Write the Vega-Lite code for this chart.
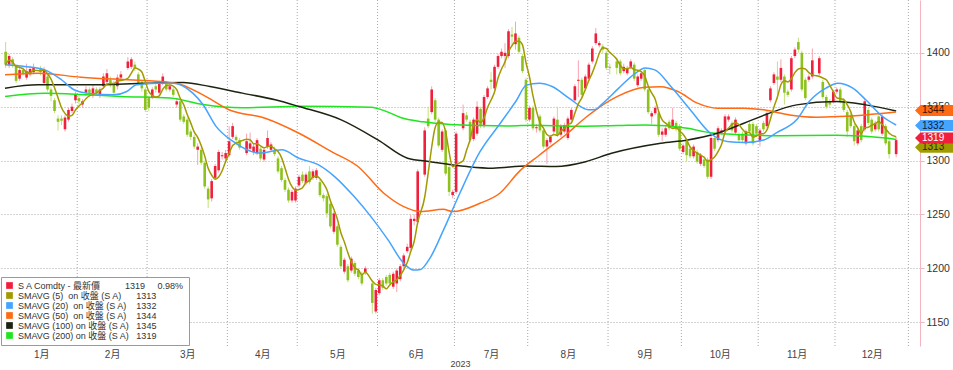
{
  "$schema": "https://vega.github.io/schema/vega-lite/v6.json",
  "width": 920,
  "height": 346,
  "autosize": {"type": "none"},
  "padding": {"left": 0, "top": 0, "right": 33, "bottom": 24},
  "background": "#ffffff",
  "config": {
    "view": {"stroke": null},
    "font": "Liberation Sans",
    "axis": {"labelFont": "Liberation Sans, Noto Sans CJK TC", "titleFont": "Liberation Sans", "labelColor": "#444444", "titleColor": "#444444"},
    "legend": {
      "orient": "bottom-left", "offset": 1, "padding": 4, "fillColor": "#ffffff", "strokeColor": "#9a9a9a",
      "rowPadding": -2, "symbolType": "square", "symbolSize": 45, "symbolStrokeWidth": 0,
      "labelFontSize": 9, "labelFont": "Liberation Sans, Noto Sans CJK TC", "labelColor": "#333333", "labelLimit": 400, "titleFontSize": 0
    }
  },
  "datasets": {
    "months": [{"b":21.5},{"b":41.5},{"b":64.5},{"b":84.5},{"b":107.5},{"b":129.5},{"b":150.5},{"b":173.5},{"b":194.5},{"b":216.5},{"b":238.5},{"b":259.5}],
    "candles": [
      {"i":1,"o":1401,"h":1410,"l":1386,"c":1389},{"i":2,"o":1389,"h":1399,"l":1386,"c":1397},{"i":3,"o":1394,"h":1396,"l":1386,"c":1389},
      {"i":4,"o":1387,"h":1389,"l":1372,"c":1374},{"i":5,"o":1376,"h":1386,"l":1374,"c":1384},{"i":6,"o":1384,"h":1387,"l":1379,"c":1381},
      {"i":7,"o":1377,"h":1390,"l":1375,"c":1383},{"i":8,"o":1380,"h":1388,"l":1378,"c":1385},{"i":9,"o":1382,"h":1390,"l":1380,"c":1386},
      {"i":11,"o":1386,"h":1388,"l":1379,"c":1382},{"i":12,"o":1372,"h":1387,"l":1370,"c":1384},{"i":13,"o":1378,"h":1380,"l":1364,"c":1366},
      {"i":14,"o":1366,"h":1368,"l":1355,"c":1360},{"i":15,"o":1356,"h":1358,"l":1344,"c":1346},{"i":16,"o":1339,"h":1342,"l":1328,"c":1336},
      {"i":17,"o":1339,"h":1342,"l":1333,"c":1337},{"i":18,"o":1329,"h":1342,"l":1327,"c":1340},{"i":19,"o":1338,"h":1349,"l":1336,"c":1347},
      {"i":20,"o":1346,"h":1353,"l":1344,"c":1350},{"i":21,"o":1356,"h":1364,"l":1353,"c":1361},{"i":22,"o":1358,"h":1360,"l":1352,"c":1355},
      {"i":23,"o":1352,"h":1357,"l":1349,"c":1355},{"i":24,"o":1363,"h":1369,"l":1360,"c":1366},{"i":25,"o":1366,"h":1368,"l":1360,"c":1363},
      {"i":26,"o":1361,"h":1370,"l":1358,"c":1367},{"i":27,"o":1366,"h":1368,"l":1360,"c":1363},{"i":28,"o":1361,"h":1368,"l":1358,"c":1366},
      {"i":29,"o":1369,"h":1381,"l":1367,"c":1378},{"i":30,"o":1373,"h":1385,"l":1371,"c":1381},{"i":31,"o":1375,"h":1378,"l":1368,"c":1370},
      {"i":32,"o":1372,"h":1374,"l":1361,"c":1363},{"i":33,"o":1369,"h":1380,"l":1366,"c":1377},{"i":34,"o":1377,"h":1383,"l":1375,"c":1380},
      {"i":36,"o":1386,"h":1396,"l":1384,"c":1392},{"i":37,"o":1387,"h":1396,"l":1385,"c":1394},{"i":38,"o":1389,"h":1392,"l":1383,"c":1386},
      {"i":39,"o":1380,"h":1382,"l":1370,"c":1372},{"i":40,"o":1373,"h":1375,"l":1364,"c":1367},{"i":41,"o":1366,"h":1368,"l":1345,"c":1347},
      {"i":42,"o":1358,"h":1360,"l":1346,"c":1349},{"i":43,"o":1359,"h":1368,"l":1357,"c":1366},{"i":44,"o":1369,"h":1371,"l":1363,"c":1366},
      {"i":45,"o":1363,"h":1374,"l":1361,"c":1372},{"i":46,"o":1372,"h":1381,"l":1370,"c":1378},{"i":47,"o":1372,"h":1374,"l":1364,"c":1366},
      {"i":48,"o":1366,"h":1371,"l":1364,"c":1369},{"i":49,"o":1366,"h":1368,"l":1359,"c":1361},{"i":50,"o":1352,"h":1358,"l":1349,"c":1355},
      {"i":51,"o":1355,"h":1357,"l":1336,"c":1338},{"i":52,"o":1341,"h":1343,"l":1334,"c":1336},{"i":53,"o":1338,"h":1340,"l":1322,"c":1324},
      {"i":54,"o":1327,"h":1329,"l":1319,"c":1322},{"i":55,"o":1322,"h":1324,"l":1311,"c":1313},{"i":56,"o":1310,"h":1316,"l":1296,"c":1313},
      {"i":57,"o":1310,"h":1312,"l":1296,"c":1298},{"i":58,"o":1298,"h":1300,"l":1274,"c":1276},{"i":59,"o":1274,"h":1276,"l":1256,"c":1264},
      {"i":60,"o":1265,"h":1283,"l":1262,"c":1281},{"i":61,"o":1284,"h":1297,"l":1282,"c":1295},{"i":62,"o":1291,"h":1310,"l":1289,"c":1308},
      {"i":63,"o":1304,"h":1308,"l":1301,"c":1305},{"i":64,"o":1302,"h":1310,"l":1300,"c":1307},{"i":65,"o":1305,"h":1332,"l":1303,"c":1318},
      {"i":66,"o":1322,"h":1335,"l":1320,"c":1332},{"i":67,"o":1322,"h":1324,"l":1316,"c":1319},{"i":68,"o":1319,"h":1321,"l":1310,"c":1312},
      {"i":70,"o":1307,"h":1325,"l":1305,"c":1318},{"i":71,"o":1311,"h":1326,"l":1309,"c":1316},{"i":72,"o":1308,"h":1316,"l":1305,"c":1313},
      {"i":73,"o":1307,"h":1321,"l":1305,"c":1319},{"i":74,"o":1311,"h":1313,"l":1300,"c":1302},{"i":75,"o":1301,"h":1312,"l":1299,"c":1310},
      {"i":76,"o":1313,"h":1328,"l":1311,"c":1321},{"i":77,"o":1310,"h":1317,"l":1308,"c":1315},{"i":78,"o":1310,"h":1313,"l":1304,"c":1306},
      {"i":79,"o":1302,"h":1304,"l":1288,"c":1290},{"i":80,"o":1293,"h":1295,"l":1280,"c":1282},{"i":81,"o":1282,"h":1284,"l":1271,"c":1273},
      {"i":82,"o":1273,"h":1275,"l":1261,"c":1263},{"i":83,"o":1263,"h":1273,"l":1261,"c":1271},{"i":84,"o":1263,"h":1276,"l":1261,"c":1274},
      {"i":85,"o":1277,"h":1287,"l":1275,"c":1285},{"i":86,"o":1287,"h":1290,"l":1279,"c":1281},{"i":87,"o":1279,"h":1289,"l":1277,"c":1287},
      {"i":88,"o":1290,"h":1295,"l":1278,"c":1280},{"i":89,"o":1284,"h":1292,"l":1282,"c":1290},{"i":90,"o":1284,"h":1293,"l":1282,"c":1291},
      {"i":91,"o":1280,"h":1282,"l":1266,"c":1268},{"i":92,"o":1268,"h":1270,"l":1262,"c":1265},{"i":93,"o":1267,"h":1269,"l":1247,"c":1251},
      {"i":94,"o":1260,"h":1262,"l":1237,"c":1239},{"i":95,"o":1234,"h":1253,"l":1232,"c":1251},{"i":96,"o":1239,"h":1241,"l":1220,"c":1222},
      {"i":97,"o":1220,"h":1222,"l":1200,"c":1202},{"i":98,"o":1197,"h":1210,"l":1195,"c":1208},{"i":99,"o":1202,"h":1204,"l":1187,"c":1189},
      {"i":100,"o":1198,"h":1211,"l":1196,"c":1209},{"i":101,"o":1205,"h":1207,"l":1193,"c":1195},{"i":102,"o":1198,"h":1200,"l":1190,"c":1192},
      {"i":103,"o":1195,"h":1197,"l":1184,"c":1186},{"i":104,"o":1196,"h":1202,"l":1194,"c":1200},{"i":106,"o":1186,"h":1188,"l":1158,"c":1168},
      {"i":107,"o":1160,"h":1182,"l":1158,"c":1180},{"i":108,"o":1177,"h":1191,"l":1175,"c":1189},{"i":109,"o":1189,"h":1191,"l":1180,"c":1182},
      {"i":110,"o":1192,"h":1194,"l":1184,"c":1186},{"i":111,"o":1194,"h":1196,"l":1184,"c":1186},{"i":112,"o":1183,"h":1197,"l":1181,"c":1195},
      {"i":113,"o":1186,"h":1200,"l":1178,"c":1198},{"i":114,"o":1190,"h":1204,"l":1188,"c":1202},{"i":115,"o":1202,"h":1214,"l":1200,"c":1212},
      {"i":116,"o":1216,"h":1223,"l":1214,"c":1220},{"i":117,"o":1219,"h":1250,"l":1217,"c":1246},{"i":118,"o":1244,"h":1250,"l":1240,"c":1246},
      {"i":119,"o":1243,"h":1292,"l":1241,"c":1290},{"i":121,"o":1287,"h":1331,"l":1285,"c":1328},{"i":122,"o":1339,"h":1350,"l":1330,"c":1332},
      {"i":123,"o":1345,"h":1369,"l":1343,"c":1366},{"i":124,"o":1356,"h":1358,"l":1336,"c":1338},{"i":125,"o":1338,"h":1340,"l":1312,"c":1314},
      {"i":126,"o":1310,"h":1329,"l":1308,"c":1327},{"i":127,"o":1328,"h":1330,"l":1286,"c":1288},{"i":128,"o":1294,"h":1296,"l":1267,"c":1271},
      {"i":129,"o":1268,"h":1273,"l":1265,"c":1271},{"i":130,"o":1271,"h":1327,"l":1269,"c":1325},{"i":132,"o":1330,"h":1352,"l":1328,"c":1344},
      {"i":133,"o":1342,"h":1345,"l":1336,"c":1338},{"i":134,"o":1336,"h":1338,"l":1317,"c":1319},{"i":135,"o":1320,"h":1340,"l":1318,"c":1338},
      {"i":136,"o":1325,"h":1355,"l":1323,"c":1350},{"i":137,"o":1348,"h":1350,"l":1330,"c":1332},{"i":138,"o":1332,"h":1361,"l":1330,"c":1359},
      {"i":139,"o":1359,"h":1369,"l":1357,"c":1367},{"i":140,"o":1375,"h":1382,"l":1366,"c":1373},{"i":141,"o":1367,"h":1389,"l":1365,"c":1387},
      {"i":142,"o":1387,"h":1399,"l":1385,"c":1397},{"i":143,"o":1397,"h":1404,"l":1395,"c":1401},{"i":144,"o":1397,"h":1409,"l":1386,"c":1400},
      {"i":145,"o":1397,"h":1422,"l":1395,"c":1420},{"i":146,"o":1417,"h":1424,"l":1406,"c":1415},{"i":147,"o":1408,"h":1429,"l":1403,"c":1418},
      {"i":148,"o":1414,"h":1416,"l":1399,"c":1401},{"i":149,"o":1397,"h":1399,"l":1381,"c":1383},{"i":150,"o":1375,"h":1377,"l":1336,"c":1338},
      {"i":151,"o":1338,"h":1351,"l":1336,"c":1349},{"i":152,"o":1349,"h":1351,"l":1328,"c":1330},{"i":153,"o":1330,"h":1334,"l":1326,"c":1331},
      {"i":154,"o":1341,"h":1343,"l":1326,"c":1328},{"i":155,"o":1328,"h":1330,"l":1311,"c":1313},{"i":156,"o":1313,"h":1321,"l":1297,"c":1319},
      {"i":157,"o":1317,"h":1324,"l":1315,"c":1322},{"i":158,"o":1327,"h":1341,"l":1325,"c":1339},{"i":159,"o":1338,"h":1350,"l":1322,"c":1324},
      {"i":160,"o":1324,"h":1334,"l":1322,"c":1332},{"i":161,"o":1327,"h":1335,"l":1325,"c":1333},{"i":162,"o":1321,"h":1341,"l":1319,"c":1339},
      {"i":163,"o":1338,"h":1349,"l":1336,"c":1347},{"i":164,"o":1356,"h":1371,"l":1354,"c":1369},{"i":165,"o":1374,"h":1393,"l":1359,"c":1375},
      {"i":166,"o":1375,"h":1377,"l":1359,"c":1361},{"i":167,"o":1367,"h":1380,"l":1365,"c":1378},{"i":168,"o":1376,"h":1391,"l":1374,"c":1389},
      {"i":169,"o":1392,"h":1406,"l":1390,"c":1404},{"i":170,"o":1409,"h":1423,"l":1407,"c":1418},{"i":171,"o":1407,"h":1411,"l":1405,"c":1409},
      {"i":172,"o":1406,"h":1408,"l":1400,"c":1403},{"i":173,"o":1400,"h":1402,"l":1384,"c":1386},{"i":174,"o":1387,"h":1390,"l":1380,"c":1386},
      {"i":176,"o":1392,"h":1395,"l":1380,"c":1386},{"i":177,"o":1392,"h":1394,"l":1379,"c":1381},{"i":178,"o":1383,"h":1390,"l":1381,"c":1387},
      {"i":179,"o":1381,"h":1388,"l":1379,"c":1386},{"i":180,"o":1387,"h":1394,"l":1385,"c":1392},{"i":181,"o":1389,"h":1391,"l":1374,"c":1376},
      {"i":182,"o":1370,"h":1380,"l":1368,"c":1378},{"i":183,"o":1376,"h":1383,"l":1374,"c":1381},{"i":184,"o":1384,"h":1386,"l":1364,"c":1366},
      {"i":185,"o":1366,"h":1368,"l":1343,"c":1345},{"i":186,"o":1341,"h":1346,"l":1334,"c":1344},{"i":187,"o":1344,"h":1351,"l":1342,"c":1349},
      {"i":188,"o":1344,"h":1346,"l":1322,"c":1324},{"i":189,"o":1324,"h":1330,"l":1318,"c":1327},{"i":190,"o":1324,"h":1332,"l":1322,"c":1330},
      {"i":191,"o":1336,"h":1338,"l":1328,"c":1330},{"i":192,"o":1332,"h":1349,"l":1330,"c":1338},{"i":193,"o":1335,"h":1337,"l":1327,"c":1329},
      {"i":194,"o":1332,"h":1334,"l":1309,"c":1311},{"i":195,"o":1308,"h":1316,"l":1306,"c":1314},{"i":196,"o":1318,"h":1320,"l":1299,"c":1305},
      {"i":197,"o":1311,"h":1313,"l":1302,"c":1304},{"i":198,"o":1304,"h":1315,"l":1302,"c":1313},{"i":199,"o":1308,"h":1310,"l":1297,"c":1299},
      {"i":200,"o":1297,"h":1307,"l":1295,"c":1305},{"i":201,"o":1301,"h":1303,"l":1293,"c":1295},{"i":202,"o":1301,"h":1303,"l":1283,"c":1285},
      {"i":203,"o":1285,"h":1323,"l":1283,"c":1321},{"i":204,"o":1321,"h":1323,"l":1309,"c":1311},{"i":205,"o":1319,"h":1332,"l":1317,"c":1330},
      {"i":206,"o":1326,"h":1330,"l":1324,"c":1328},{"i":207,"o":1328,"h":1343,"l":1326,"c":1341},{"i":208,"o":1338,"h":1343,"l":1336,"c":1341},
      {"i":209,"o":1335,"h":1337,"l":1326,"c":1328},{"i":210,"o":1326,"h":1340,"l":1324,"c":1338},{"i":211,"o":1324,"h":1326,"l":1317,"c":1319},
      {"i":212,"o":1325,"h":1327,"l":1317,"c":1319},{"i":213,"o":1316,"h":1329,"l":1314,"c":1327},{"i":214,"o":1334,"h":1336,"l":1325,"c":1327},
      {"i":215,"o":1334,"h":1336,"l":1314,"c":1316},{"i":216,"o":1332,"h":1334,"l":1323,"c":1325},{"i":217,"o":1318,"h":1330,"l":1313,"c":1328},
      {"i":218,"o":1335,"h":1337,"l":1327,"c":1329},{"i":219,"o":1332,"h":1346,"l":1330,"c":1344},{"i":220,"o":1356,"h":1369,"l":1354,"c":1367},
      {"i":221,"o":1372,"h":1382,"l":1370,"c":1380},{"i":222,"o":1378,"h":1392,"l":1357,"c":1375},{"i":223,"o":1375,"h":1394,"l":1373,"c":1386},
      {"i":224,"o":1378,"h":1380,"l":1352,"c":1363},{"i":225,"o":1364,"h":1366,"l":1359,"c":1361},{"i":226,"o":1366,"h":1397,"l":1364,"c":1395},
      {"i":227,"o":1397,"h":1405,"l":1395,"c":1403},{"i":228,"o":1410,"h":1414,"l":1400,"c":1403},{"i":229,"o":1400,"h":1402,"l":1364,"c":1366},
      {"i":230,"o":1375,"h":1377,"l":1356,"c":1358},{"i":231,"o":1375,"h":1380,"l":1373,"c":1378},{"i":232,"o":1378,"h":1404,"l":1376,"c":1393},
      {"i":234,"o":1381,"h":1397,"l":1379,"c":1395},{"i":235,"o":1373,"h":1375,"l":1357,"c":1359},{"i":236,"o":1359,"h":1361,"l":1348,"c":1350},
      {"i":237,"o":1355,"h":1357,"l":1350,"c":1352},{"i":238,"o":1355,"h":1366,"l":1353,"c":1364},{"i":239,"o":1364,"h":1368,"l":1362,"c":1366},
      {"i":240,"o":1366,"h":1368,"l":1353,"c":1355},{"i":241,"o":1356,"h":1358,"l":1345,"c":1347},{"i":242,"o":1345,"h":1347,"l":1322,"c":1327},
      {"i":243,"o":1342,"h":1344,"l":1330,"c":1332},{"i":244,"o":1332,"h":1334,"l":1314,"c":1318},{"i":245,"o":1316,"h":1330,"l":1314,"c":1328},
      {"i":246,"o":1332,"h":1334,"l":1317,"c":1319},{"i":247,"o":1329,"h":1357,"l":1327,"c":1355},{"i":248,"o":1347,"h":1349,"l":1333,"c":1335},
      {"i":249,"o":1338,"h":1340,"l":1325,"c":1327},{"i":250,"o":1329,"h":1337,"l":1327,"c":1335},{"i":251,"o":1341,"h":1343,"l":1327,"c":1329},
      {"i":252,"o":1325,"h":1343,"l":1323,"c":1341},{"i":253,"o":1332,"h":1334,"l":1314,"c":1316},{"i":254,"o":1318,"h":1320,"l":1302,"c":1306},
      {"i":256,"o":1306,"h":1322,"l":1303,"c":1319}
    ],
    "ma": [
      {"i":0.82,"s":"m200","v":1359.5},{"i":12.2,"s":"m200","v":1362.5},{"i":24.3,"s":"m200","v":1361},{"i":34,"s":"m200","v":1359.5},{"i":48.1,"s":"m200","v":1358},{"i":57.5,"s":"m200","v":1352},{"i":68.8,"s":"m200","v":1349},{"i":85.8,"s":"m200","v":1350.5},{"i":105.6,"s":"m200","v":1349.6},{"i":110.5,"s":"m200","v":1345},{"i":114.1,"s":"m200","v":1340},{"i":120.6,"s":"m200","v":1336},{"i":128.3,"s":"m200","v":1333.5},{"i":136.8,"s":"m200","v":1332.5},{"i":145.3,"s":"m200","v":1332.2},{"i":151.8,"s":"m200","v":1332.8},{"i":165.1,"s":"m200","v":1331.8},{"i":176.5,"s":"m200","v":1332.5},{"i":184.1,"s":"m200","v":1333},{"i":196.3,"s":"m200","v":1330},{"i":202.8,"s":"m200","v":1325.8},{"i":212.4,"s":"m200","v":1324},{"i":221.8,"s":"m200","v":1323},{"i":238.8,"s":"m200","v":1323.5},{"i":253.8,"s":"m200","v":1320.8},{"i":256,"s":"m200","v":1319.5},
      {"i":0.82,"s":"m100","v":1367.2},{"i":10.2,"s":"m100","v":1370.3},{"i":24.3,"s":"m100","v":1370.3},{"i":41.3,"s":"m100","v":1371.8},{"i":51.8,"s":"m100","v":1372.5},{"i":59.5,"s":"m100","v":1368.7},{"i":68.8,"s":"m100","v":1362.6},{"i":78.2,"s":"m100","v":1356.4},{"i":85,"s":"m100","v":1350.2},{"i":97.1,"s":"m100","v":1337.8},{"i":107.6,"s":"m100","v":1319.2},{"i":116.1,"s":"m100","v":1302.2},{"i":122.6,"s":"m100","v":1299},{"i":133.1,"s":"m100","v":1294.5},{"i":140.5,"s":"m100","v":1293},{"i":150.1,"s":"m100","v":1295},{"i":158.6,"s":"m100","v":1294.5},{"i":167.1,"s":"m100","v":1299},{"i":174.5,"s":"m100","v":1306.8},{"i":188.6,"s":"m100","v":1316.1},{"i":196.3,"s":"m100","v":1319.2},{"i":204.8,"s":"m100","v":1325.4},{"i":212.4,"s":"m100","v":1334.7},{"i":218.9,"s":"m100","v":1343},{"i":227.5,"s":"m100","v":1351.7},{"i":238.8,"s":"m100","v":1354.8},{"i":247.3,"s":"m100","v":1351.7},{"i":256,"s":"m100","v":1346},
      {"i":0.82,"s":"m50","v":1379.6},{"i":10.2,"s":"m50","v":1381.1},{"i":22.6,"s":"m50","v":1377.4},{"i":32,"s":"m50","v":1375.6},{"i":41.3,"s":"m50","v":1374.3},{"i":49.8,"s":"m50","v":1371.8},{"i":57.5,"s":"m50","v":1361},{"i":65.1,"s":"m50","v":1347},{"i":75.3,"s":"m50","v":1339.3},{"i":85,"s":"m50","v":1325.4},{"i":94.3,"s":"m50","v":1308.4},{"i":101.9,"s":"m50","v":1294.5},{"i":109.3,"s":"m50","v":1269.7},{"i":115,"s":"m50","v":1257.3},{"i":119.8,"s":"m50","v":1252.7},{"i":126.3,"s":"m50","v":1254.8},{"i":129.1,"s":"m50","v":1252.7},{"i":136.8,"s":"m50","v":1260.4},{"i":142.5,"s":"m50","v":1269.7},{"i":148.1,"s":"m50","v":1290},{"i":153.8,"s":"m50","v":1305},{"i":161.4,"s":"m50","v":1324},{"i":167.1,"s":"m50","v":1340},{"i":170.8,"s":"m50","v":1349},{"i":176.5,"s":"m50","v":1360},{"i":184.1,"s":"m50","v":1368},{"i":188.6,"s":"m50","v":1368.5},{"i":193.5,"s":"m50","v":1364.1},{"i":199.1,"s":"m50","v":1353.3},{"i":204.8,"s":"m50","v":1348.6},{"i":212.4,"s":"m50","v":1348.6},{"i":218.1,"s":"m50","v":1347.1},{"i":225.5,"s":"m50","v":1342.4},{"i":233.1,"s":"m50","v":1340.3},{"i":239.6,"s":"m50","v":1340.9},{"i":247.3,"s":"m50","v":1342.4},{"i":256,"s":"m50","v":1345},
      {"i":0.82,"s":"m20","v":1388.9},{"i":6.5,"s":"m20","v":1387.3},{"i":12.2,"s":"m20","v":1384.2},{"i":17,"s":"m20","v":1375},{"i":20.6,"s":"m20","v":1365.7},{"i":24.3,"s":"m20","v":1362.6},{"i":32,"s":"m20","v":1361},{"i":35.7,"s":"m20","v":1364.1},{"i":38.5,"s":"m20","v":1370.3},{"i":44.2,"s":"m20","v":1371.8},{"i":49,"s":"m20","v":1371.8},{"i":54.6,"s":"m20","v":1362.6},{"i":57.5,"s":"m20","v":1352},{"i":61.2,"s":"m20","v":1332},{"i":66,"s":"m20","v":1318},{"i":73.6,"s":"m20","v":1307},{"i":80.1,"s":"m20","v":1310},{"i":85,"s":"m20","v":1302.2},{"i":90.6,"s":"m20","v":1296},{"i":95.2,"s":"m20","v":1285.2},{"i":100.8,"s":"m20","v":1266.6},{"i":105.6,"s":"m20","v":1248},{"i":110.5,"s":"m20","v":1226.4},{"i":115,"s":"m20","v":1204.7},{"i":117.8,"s":"m20","v":1198.5},{"i":119.8,"s":"m20","v":1199},{"i":122.6,"s":"m20","v":1210},{"i":126.3,"s":"m20","v":1235},{"i":131.1,"s":"m20","v":1270},{"i":136.8,"s":"m20","v":1308},{"i":142.5,"s":"m20","v":1334},{"i":147.3,"s":"m20","v":1356},{"i":150.1,"s":"m20","v":1370},{"i":153.8,"s":"m20","v":1371.8},{"i":157.5,"s":"m20","v":1368.7},{"i":162.3,"s":"m20","v":1358},{"i":168,"s":"m20","v":1347.1},{"i":169.9,"s":"m20","v":1347.5},{"i":171.6,"s":"m20","v":1352},{"i":176.5,"s":"m20","v":1367},{"i":181.3,"s":"m20","v":1381},{"i":184.1,"s":"m20","v":1385.8},{"i":186.9,"s":"m20","v":1384.2},{"i":191.5,"s":"m20","v":1368.7},{"i":197.1,"s":"m20","v":1347},{"i":202.8,"s":"m20","v":1325.4},{"i":207.6,"s":"m20","v":1317.7},{"i":212.4,"s":"m20","v":1316.7},{"i":218.1,"s":"m20","v":1319.2},{"i":221.8,"s":"m20","v":1326},{"i":227.5,"s":"m20","v":1337.8},{"i":231.1,"s":"m20","v":1354.8},{"i":235.9,"s":"m20","v":1367.2},{"i":239.3,"s":"m20","v":1371.8},{"i":243.6,"s":"m20","v":1367.2},{"i":247.3,"s":"m20","v":1356.4},{"i":252.1,"s":"m20","v":1340.9},{"i":256,"s":"m20","v":1333}
    ],
    "tags": [
      {"z":1,"v":1312.3,"t":"1313","bg":"#a09c00","fg":"#2a2800"},
      {"z":2,"v":1332.5,"t":"1332","bg":"#44a4ff","fg":"#0c2040"},
      {"z":2,"v":1346.6,"t":"1344","bg":"#ff6a14","fg":"#3a1400"},
      {"z":2,"v":1321,"t":"1319","bg":"#f0203c","fg":"#ffffff"}
    ]
  },
  "layer": [
    {
      "data": {"name": "months"},
      "mark": {"type": "rule", "color": "#a8a8a8", "strokeDash": [1, 2], "strokeWidth": 1},
      "encoding": {
        "x": {"field": "b", "type": "quantitative", "title": "2023",
              "scale": {"domain": [0.82, 261.4], "nice": false, "zero": false},
              "axis": {"values": [11.2, 31.5, 53, 74.5, 96, 118.5, 140, 162, 184, 205.5, 227.5, 249],
                       "labelExpr": "['1月','2月','3月','4月','5月','6月','7月','8月','9月','10月','11月','12月'][indexof([11.2,31.5,53,74.5,96,118.5,140,162,184,205.5,227.5,249], datum.value)]",
                       "grid": false, "domain": false, "ticks": false, "labelPadding": 3, "labelFontSize": 10,
                       "titleFontSize": 9, "titlePadding": 0, "titleFontWeight": "normal"}}
      }
    },
    {
      "data": {"name": "candles"},
      "mark": {"type": "rule", "strokeWidth": 1},
      "encoding": {
        "x": {"field": "i", "type": "quantitative", "title": "2023", "scale": {"domain": [0.82, 261.4], "nice": false, "zero": false}},
        "y": {"field": "l", "type": "quantitative", "title": null,
              "scale": {"domain": [1128, 1449], "nice": false, "zero": false},
              "axis": {"orient": "right", "values": [1150,1175,1200,1225,1250,1275,1300,1325,1350,1375,1400,1425], "format": "d",
                       "labelExpr": "datum.value % 50 === 0 ? datum.label : ''",
                       "grid": true, "gridColor": "#a8a8a8", "gridDash": [1, 2],
                       "gridOpacity": {"condition": {"test": "datum.value % 50 === 0", "value": 1}, "value": 0},
                       "tickSize": {"condition": {"test": "datum.value % 50 === 0", "value": 4}, "value": 2},
                       "domainColor": "#f5b5c0", "tickColor": "#f5b5c0", "labelPadding": 2, "labelFontSize": 10.5, "labelColor": "#333333"}},
        "y2": {"field": "h"},
        "color": {"condition": {"test": "datum.c >= datum.o", "value": "#f7a3b0"}, "value": "#c2e17a"}
      }
    },
    {
      "data": {"name": "candles"},
      "mark": {"type": "bar", "size": 2.6, "orient": "vertical"},
      "encoding": {
        "x": {"field": "i", "type": "quantitative", "title": "2023"},
        "y": {"field": "o", "type": "quantitative", "title": null},
        "y2": {"field": "c"},
        "color": {"condition": {"test": "datum.c >= datum.o", "value": "#f0203c"}, "value": "#8cc21c"}
      }
    },
    {
      "data": {"name": "ma"},
      "mark": {"type": "line", "strokeWidth": 1.5, "interpolate": "monotone"},
      "encoding": {
        "x": {"field": "i", "type": "quantitative", "title": "2023"},
        "y": {"field": "v", "type": "quantitative", "title": null},
        "detail": {"field": "s"},
        "color": {"field": "s", "type": "nominal",
                  "scale": {"domain": ["SA", "m5", "m20", "m50", "m100", "m200"],
                            "range": ["#f0203c", "#a29a00", "#44a4ff", "#ff6a14", "#1c2410", "#1fe51f"]},
                  "legend": {"title": null, "symbolType": "square",
                             "labelExpr": "{'SA':'S A Comdty - 最新價\u00a0\u00a0\u00a0\u00a0\u00a0\u00a0\u00a0\u00a0\u00a0\u00a01319\u00a0\u00a0\u00a0\u00a0\u00a00.98%','m5':'SMAVG (5)\u00a0\u00a0on 收盤 (S A)\u00a0\u00a0\u00a0\u00a0\u00a0\u00a01313','m20':'SMAVG (20)\u00a0\u00a0on 收盤 (S A)\u00a0\u00a0\u00a0\u00a01332','m50':'SMAVG (50)\u00a0\u00a0on 收盤 (S A)\u00a0\u00a0\u00a0\u00a01344','m100':'SMAVG (100)\u00a0on 收盤 (S A)\u00a0\u00a0\u00a01345','m200':'SMAVG (200)\u00a0on 收盤 (S A)\u00a0\u00a0\u00a01319'}[datum.value]",
                             "encode": {"symbols": {"update": {"fill": {"scale": "color", "field": "value"}, "stroke": {"value": "transparent"}}}}}}
      }
    },
    {
      "data": {"name": "candles"},
      "transform": [{"window": [{"op": "mean", "field": "c", "as": "m5"}], "frame": [-4, 0], "sort": [{"field": "i"}]}],
      "mark": {"type": "line", "strokeWidth": 1.5, "interpolate": "monotone"},
      "encoding": {
        "x": {"field": "i", "type": "quantitative", "title": "2023"},
        "y": {"field": "m5", "type": "quantitative", "title": null},
        "color": {"datum": "m5", "type": "nominal"}
      }
    },
    {
      "data": {"name": "tags"},
      "transform": [{"filter": "datum.z === 1"}],
      "mark": {"type": "point", "filled": true, "opacity": 1, "size": 400, "shape": "M0,0L0.55,-0.55L4,-0.55L4,0.55L0.55,0.55Z", "strokeWidth": 0},
      "encoding": {
        "x": {"datum": 261.4, "type": "quantitative"},
        "y": {"field": "v", "type": "quantitative", "title": null},
        "fill": {"field": "bg", "type": "nominal", "scale": null}
      }
    },
    {
      "data": {"name": "tags"},
      "transform": [{"filter": "datum.z === 1"}],
      "mark": {"type": "text", "align": "left", "baseline": "middle", "dx": 7, "fontSize": 10, "font": "Liberation Sans"},
      "encoding": {
        "x": {"datum": 261.4, "type": "quantitative"},
        "y": {"field": "v", "type": "quantitative", "title": null},
        "text": {"field": "t"},
        "fill": {"field": "fg", "type": "nominal", "scale": null}
      }
    },
    {
      "data": {"name": "tags"},
      "transform": [{"filter": "datum.z === 2"}],
      "mark": {"type": "point", "filled": true, "opacity": 1, "size": 400, "shape": "M0,0L0.55,-0.55L4,-0.55L4,0.55L0.55,0.55Z", "strokeWidth": 0},
      "encoding": {
        "x": {"datum": 261.4, "type": "quantitative"},
        "y": {"field": "v", "type": "quantitative", "title": null},
        "fill": {"field": "bg", "type": "nominal", "scale": null}
      }
    },
    {
      "data": {"name": "tags"},
      "transform": [{"filter": "datum.z === 2"}],
      "mark": {"type": "text", "align": "left", "baseline": "middle", "dx": 7, "fontSize": 10, "font": "Liberation Sans"},
      "encoding": {
        "x": {"datum": 261.4, "type": "quantitative"},
        "y": {"field": "v", "type": "quantitative", "title": null},
        "text": {"field": "t"},
        "fill": {"field": "fg", "type": "nominal", "scale": null}
      }
    }
  ]
}
